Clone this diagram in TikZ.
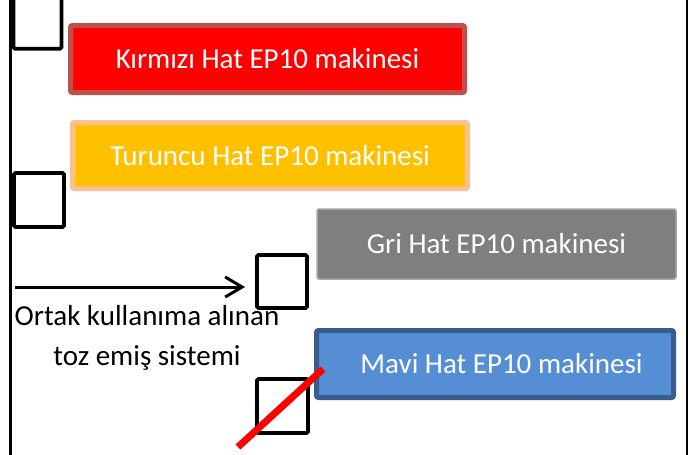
\documentclass[tikz,border=0pt]{standalone}
\usepackage{fontspec}
\setmainfont{Carlito}
\definecolor{hatRed}{HTML}{FF0000}
\definecolor{hatRedLine}{HTML}{C0504D}
\definecolor{hatOrange}{HTML}{FFC000}
\definecolor{hatOrangeLine}{HTML}{FAC090}
\definecolor{hatGray}{HTML}{7F7F7F}
\definecolor{hatGrayLine}{HTML}{A6A6A6}
\definecolor{hatBlue}{HTML}{558ED5}
\definecolor{hatBlueLine}{HTML}{385D8A}
\usetikzlibrary{arrows.meta}

\begin{document}
\begin{tikzpicture}[
  x=1pt, y=-1pt,
  machine/.style={rounded corners=2pt, inner sep=0pt, text=white, font=\fontsize{29}{35}\selectfont},
  redhat/.style={machine, fill=hatRed, draw=hatRedLine, line width=5pt},
  orangehat/.style={machine, fill=hatOrange, draw=hatOrangeLine, line width=5pt},
  grayhat/.style={machine, fill=hatGray, draw=hatGrayLine, line width=1.5pt},
  bluehat/.style={machine, fill=hatBlue, draw=hatBlueLine, line width=5pt},
  port/.style={draw, line width=3.8pt, rounded corners=1.5pt, inner sep=0pt},
  frame/.style={line width=2.3pt}
]
  \useasboundingbox (0,0) rectangle (691,455);

  % side lines
  \coordinate (fl1) at (10.5,0);   \coordinate (fl2) at (10.5,455);
  \coordinate (fr1) at (686.7,0);  \coordinate (fr2) at (686.7,455);
  \draw[frame] (fl1) -- (fl2);
  \draw[frame] (fr1) -- (fr2);

  % machines
  \node[redhat,    minimum width=394pt, minimum height=67pt] at (267.5,59)  (red)    {Kırmızı Hat EP10 makinesi};
  \node[orangehat, minimum width=395pt, minimum height=66pt] at (270,155.5) (orange) {Turuncu Hat EP10 makinesi};
  \node[grayhat,   minimum width=359pt, minimum height=70pt] at (496.5,244) (gray)   {Gri Hat EP10 makinesi};
  \node[bluehat,   minimum width=357pt, minimum height=67pt] at (495,364)   (blue)   {\hspace*{13pt}Mavi Hat EP10 makinesi};

  % suction ports
  \node[port, minimum width=48pt, minimum height=58pt] at (37.5,19.7) (p1) {};
  \node[port, minimum width=50pt, minimum height=54pt] at (39,200)    (p2) {};
  \node[port, minimum width=50pt, minimum height=53pt] at (282,281.5) (p3) {};
  \node[port, minimum width=51pt, minimum height=54pt] at (282.5,406) (p4) {};

  % shared system
  \coordinate (src) at (15,287);
  \draw[line width=3pt, -{Straight Barb[length=17pt, width=20pt]}, shorten >=10pt] (src) -- (p3.west |- src);
  \node[align=center, font=\fontsize{29}{40}\selectfont, inner sep=0pt] at (147,338) (shared) {Ortak kullanıma alınan\\toz emiş sistemi};

  % cancelled port
  \coordinate (x1) at (238,447);
  \coordinate (x2) at (323,369);
  \draw[hatRed, line width=7pt] (x1) -- (x2);
\end{tikzpicture}
\end{document}
